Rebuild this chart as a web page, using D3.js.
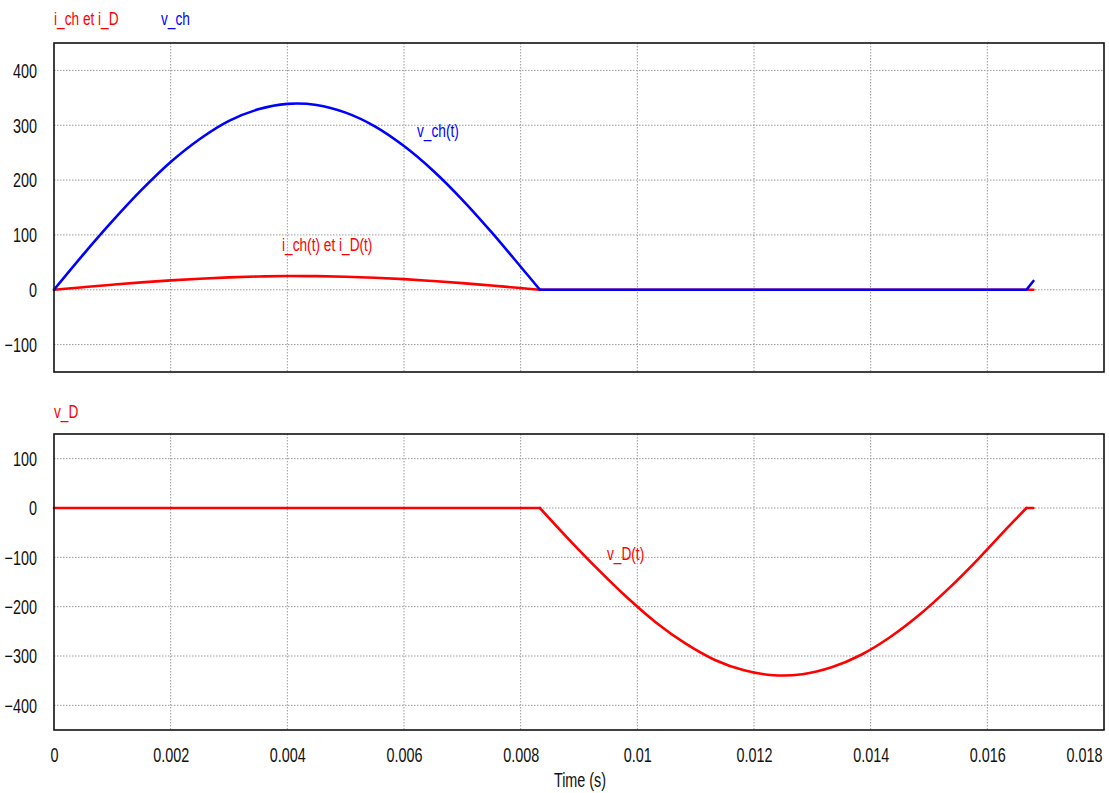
<!DOCTYPE html>
<html>
<head>
<meta charset="utf-8">
<script src="https://cdn.jsdelivr.net/npm/d3@7"></script>
<style>
  body { margin: 0; background: #fff; }
  svg { display: block; }
</style>
</head>
<body>
<div id="chart"></div>
<script>
// values
const xTicks = [0, 0.002, 0.004, 0.006, 0.008, 0.01, 0.012, 0.014, 0.016, 0.018];
const xTickLabels = ["0", "0.002", "0.004", "0.006", "0.008", "0.01", "0.012", "0.014", "0.016", "0.018"];
const topTicks = [-100, 0, 100, 200, 300, 400];
const botTicks = [-400, -300, -200, -100, 0, 100];

// top panel: v_ch and i_ch / i_D
const topTime = [0, 0.0005, 0.001, 0.0015, 0.002, 0.0025, 0.003, 0.0035, 0.004, 0.0045, 0.005,
  0.0055, 0.006, 0.0065, 0.007, 0.0075, 0.008, 0.00833, 0.01667, 0.01679];
const vChValues = [0, 64, 125, 182, 233, 275, 308, 329, 339, 337, 323,
  298, 262, 217, 164, 105, 42, 0, 0, 16];
const iChValues = [0, 4.7, 9.2, 13.4, 17.1, 20.2, 22.6, 24.2, 25, 24.8, 23.8,
  21.9, 19.3, 15.9, 12.1, 7.7, 3.1, 0, 0, 0];

// bottom panel: v_D
const vDTime = [0, 0.00833, 0.00883, 0.00933, 0.00983, 0.01033, 0.01083, 0.01133, 0.01183, 0.01233,
  0.01283, 0.01333, 0.01383, 0.01433, 0.01483, 0.01533, 0.01583, 0.01633, 0.01667, 0.01679];
const vDValues = [0, 0, -64, -125, -182, -233, -275, -308, -329, -339,
  -337, -323, -298, -262, -217, -164, -105, -42, 0, 0];

const RED = "#ff0000", BLUE = "#0000ff";
const SX = 0.72; // the screenshot text is horizontally squeezed
const FONT = "'Liberation Sans', Arial, sans-serif";

const width = 1109, height = 793;
const left = 54, right = 1104;
const svg = d3.select("#chart").append("svg")
  .attr("width", width).attr("height", height);

const x = d3.scaleLinear().domain([0, 0.018]).range([left, right]);

function squeezedText(g, tx, ty, str, color, size, anchor) {
  return g.append("text")
    .attr("transform", `translate(${tx},${ty}) scale(${SX},1)`)
    .attr("font-family", FONT)
    .attr("font-size", size)
    .attr("fill", color)
    .attr("text-anchor", anchor || "start")
    .attr("dominant-baseline", "central")
    .text(str);
}

// draws a trace piece by piece: smooth over the half-waves, straight on the flat parts
function trace(g, y, times, values, pieces, color) {
  pieces.forEach(([a, b, smooth]) => {
    const idx = d3.range(a, b + 1);
    const ln = d3.line()
      .x(i => x(times[i])).y(i => y(values[i]))
      .curve(smooth ? d3.curveCatmullRom.alpha(0.5) : d3.curveLinear);
    g.append("path").attr("d", ln(idx))
      .attr("fill", "none").attr("stroke", color).attr("stroke-width", 2.6)
      .attr("stroke-linejoin", "round").attr("stroke-linecap", "round");
  });
}

function panel(top, bottom, domain, ticks) {
  const y = d3.scaleLinear().domain(domain).range([bottom, top]);
  const g = svg.append("g");

  // grid
  g.append("g").selectAll("line.gx")
    .data(xTicks.slice(1, -1))
    .join("line")
    .attr("x1", d => x(d)).attr("x2", d => x(d))
    .attr("y1", top).attr("y2", bottom)
    .attr("stroke", "#9a9a9a").attr("stroke-width", 1)
    .attr("stroke-dasharray", "1.5,1.5");
  g.append("g").selectAll("line.gy")
    .data(ticks)
    .join("line")
    .attr("x1", left).attr("x2", right)
    .attr("y1", d => y(d)).attr("y2", d => y(d))
    .attr("stroke", "#9a9a9a").attr("stroke-width", 1)
    .attr("stroke-dasharray", "1.5,1.5");

  // y axis labels
  const yAxis = d3.axisLeft(y).tickValues(ticks).tickSize(0).tickPadding(0);
  const ya = g.append("g").attr("transform", `translate(${left},0)`).call(yAxis);
  ya.select(".domain").remove();
  ya.selectAll("text")
    .attr("x", null).attr("dy", null)
    .attr("transform", `translate(-17,0) scale(${SX},1)`)
    .attr("dominant-baseline", "central")
    .attr("font-family", FONT)
    .attr("font-size", 20)
    .attr("fill", "#111");

  return {g, y};
}

// top panel
const P1 = panel(43, 372, [-150, 450], topTicks);
trace(P1.g, P1.y, topTime, iChValues, [[0, 17, true], [17, 19, false]], RED);
trace(P1.g, P1.y, topTime, vChValues, [[0, 17, true], [17, 19, false]], BLUE);
P1.g.append("rect").attr("x", left).attr("y", 43)
  .attr("width", right - left).attr("height", 372 - 43)
  .attr("fill", "none").attr("stroke", "#111").attr("stroke-width", 1.6);

squeezedText(svg, 54, 19, "i_ch et i_D", RED, 19);
squeezedText(svg, 161, 19, "v_ch", BLUE, 19);
squeezedText(svg, 417, 131, "v_ch(t)", BLUE, 19);
squeezedText(svg, 282, 245, "i_ch(t) et i_D(t)", RED, 19);

// bottom panel
const P2 = panel(434, 730, [-450, 150], botTicks);
trace(P2.g, P2.y, vDTime, vDValues, [[0, 1, false], [1, 18, true], [18, 19, false]], RED);
P2.g.append("rect").attr("x", left).attr("y", 434)
  .attr("width", right - left).attr("height", 730 - 434)
  .attr("fill", "none").attr("stroke", "#111").attr("stroke-width", 1.6);

squeezedText(svg, 54, 412, "v_D", RED, 19);
squeezedText(svg, 607, 554, "v_D(t)", RED, 19);

// x axis labels
const xAxis = d3.axisBottom(x).tickValues(xTicks)
  .tickFormat((d, i) => xTickLabels[i]).tickSize(0).tickPadding(0);
const xa = svg.append("g").attr("transform", "translate(0,730)").call(xAxis);
xa.select(".domain").remove();
xa.selectAll("text")
  .attr("y", null).attr("dy", null)
  .attr("transform", (d, i) => i === xTicks.length - 1
    ? `translate(-2,25) scale(${SX},1)` : `translate(0,25) scale(${SX},1)`)
  .attr("text-anchor", (d, i) => i === xTicks.length - 1 ? "end" : "middle")
  .attr("dominant-baseline", "central")
  .attr("font-family", FONT)
  .attr("font-size", 20)
  .attr("fill", "#111");

squeezedText(svg, 580, 780, "Time (s)", "#111", 20, "middle");
</script>
</body>
</html>
